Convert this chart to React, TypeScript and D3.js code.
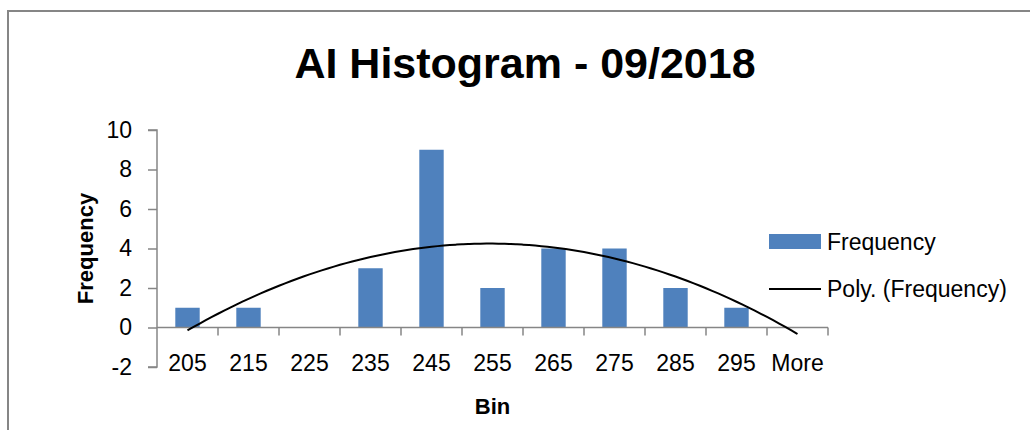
import React, { useEffect, useRef } from 'react';
import * as d3 from 'd3';

const bins = ['205', '215', '225', '235', '245', '255', '265', '275', '285', '295', 'More'];
const frequency = [1, 1, 0, 3, 9, 2, 4, 4, 2, 1, 0];
const yTicks = [-2, 0, 2, 4, 6, 8, 10];

const W = 1030;
const H = 430;
const margin = { left: 157, right: 202, top: 130, bottom: 63 };
const FONT = '"Liberation Sans", Arial, sans-serif';
const GRID = '#868686';
const BAR = '#4F81BD';

// least squares fit of order 2 (Excel's "Poly." trendline), x = 1..n
function polyFit(ys: number[]) {
    const xs = ys.map((_, i) => i + 1);
    let s = [0, 0, 0, 0, 0];
    let t = [0, 0, 0];
    xs.forEach((x, i) => {
        for (let k = 0; k < 5; k++) s[k] += Math.pow(x, k);
        for (let k = 0; k < 3; k++) t[k] += Math.pow(x, k) * ys[i];
    });
    const m = [
        [s[0], s[1], s[2], t[0]],
        [s[1], s[2], s[3], t[1]],
        [s[2], s[3], s[4], t[2]],
    ];
    for (let c = 0; c < 3; c++) {
        for (let r = c + 1; r < 3; r++) {
            const f = m[r][c] / m[c][c];
            for (let k = c; k < 4; k++) m[r][k] -= f * m[c][k];
        }
    }
    const coef = [0, 0, 0];
    for (let r = 2; r >= 0; r--) {
        let v = m[r][3];
        for (let k = r + 1; k < 3; k++) v -= m[r][k] * coef[k];
        coef[r] = v / m[r][r];
    }
    return (x: number) => coef[0] + coef[1] * x + coef[2] * x * x;
}

export default function App() {
    const ref = useRef<SVGSVGElement>(null);

    useEffect(() => {
        const svg = d3.select(ref.current);
        svg.selectAll('*').remove();

        const x0 = margin.left;
        const x1 = W - margin.right;
        const yTop = margin.top;
        const yBot = H - margin.bottom;

        const x = d3.scaleBand().domain(bins).range([x0, x1]).paddingInner(0.6).paddingOuter(0.3);
        const xAxisScale = d3.scaleBand().domain(bins).range([x0, x1]);
        const y = d3.scaleLinear().domain([-2, 10]).range([yBot, yTop]);

        // chart border
        svg.append('rect')
            .attr('x', 8).attr('y', 11)
            .attr('width', W + 20).attr('height', H + 20)
            .attr('fill', 'none').attr('stroke', GRID).attr('stroke-width', 2);

        // title
        svg.append('text')
            .attr('x', 525).attr('y', 78)
            .attr('text-anchor', 'middle')
            .attr('font-family', FONT).attr('font-weight', 'bold').attr('font-size', 43)
            .text('AI Histogram - 09/2018');

        // bars
        svg.append('g').selectAll('rect')
            .data(frequency)
            .join('rect')
            .attr('x', (d, i) => x(bins[i]) as number)
            .attr('width', x.bandwidth())
            .attr('y', (d) => y(d))
            .attr('height', (d) => y(0) - y(d))
            .attr('fill', BAR);

        // y axis
        const yAxis = d3.axisLeft(y).tickValues(yTicks).tickSize(9).tickPadding(16)
            .tickFormat((d) => String(d));
        const gy = svg.append('g').attr('transform', `translate(${x0},0)`).call(yAxis);
        gy.select('.domain').attr('stroke', GRID).attr('stroke-width', 1.5).attr('d', `M-9,${yBot}H0V${yTop}H-9`);
        gy.selectAll('.tick line').attr('stroke', GRID).attr('stroke-width', 1.5);
        gy.selectAll('.tick text').attr('font-family', FONT).attr('font-size', 23).attr('fill', '#000');

        // x axis along zero
        const gx = svg.append('g').attr('transform', `translate(0,${y(0)})`);
        gx.append('line').attr('x1', x0).attr('x2', x1).attr('y1', 0).attr('y2', 0)
            .attr('stroke', GRID).attr('stroke-width', 1.5);
        gx.selectAll('line.tk')
            .data(bins)
            .join('line')
            .attr('class', 'tk')
            .attr('x1', (d) => (xAxisScale(d) as number) + xAxisScale.bandwidth())
            .attr('x2', (d) => (xAxisScale(d) as number) + xAxisScale.bandwidth())
            .attr('y1', 0).attr('y2', 8)
            .attr('stroke', GRID).attr('stroke-width', 1.5);
        gx.selectAll('text')
            .data(bins)
            .join('text')
            .attr('x', (d) => (xAxisScale(d) as number) + xAxisScale.bandwidth() / 2)
            .attr('y', 43)
            .attr('text-anchor', 'middle')
            .attr('font-family', FONT).attr('font-size', 23)
            .text((d) => d);

        // polynomial trendline
        const fit = polyFit(frequency);
        const xc = d3.scaleLinear().domain([1, bins.length])
            .range([(x(bins[0]) as number) + x.bandwidth() / 2, (x(bins[bins.length - 1]) as number) + x.bandwidth() / 2]);
        const pts = d3.range(1, bins.length + 0.001, 0.1).map((v) => [xc(v), y(fit(v))] as [number, number]);
        svg.append('path')
            .attr('d', d3.line().curve(d3.curveMonotoneX)(pts))
            .attr('fill', 'none').attr('stroke', '#000').attr('stroke-width', 2);

        // axis titles
        svg.append('text')
            .attr('x', (x0 + x1) / 2).attr('y', 414)
            .attr('text-anchor', 'middle')
            .attr('font-family', FONT).attr('font-weight', 'bold').attr('font-size', 22)
            .text('Bin');
        svg.append('text')
            .attr('transform', `translate(93,${(yTop + yBot) / 2}) rotate(-90)`)
            .attr('text-anchor', 'middle')
            .attr('font-family', FONT).attr('font-weight', 'bold').attr('font-size', 22)
            .text('Frequency');

        // legend
        const lg = svg.append('g').attr('font-family', FONT).attr('font-size', 23);
        lg.append('rect').attr('x', 769).attr('y', 234).attr('width', 52).attr('height', 15).attr('fill', BAR);
        lg.append('text').attr('x', 827).attr('y', 250).text('Frequency');
        lg.append('line').attr('x1', 769).attr('x2', 821).attr('y1', 289).attr('y2', 289)
            .attr('stroke', '#000').attr('stroke-width', 2);
        lg.append('text').attr('x', 827).attr('y', 297).text('Poly. (Frequency)');
    }, []);

    return (
        <svg ref={ref} width={W} height={H}
            style={{ position: 'absolute', left: 0, top: 0, background: '#fff' }} />
    );
}
